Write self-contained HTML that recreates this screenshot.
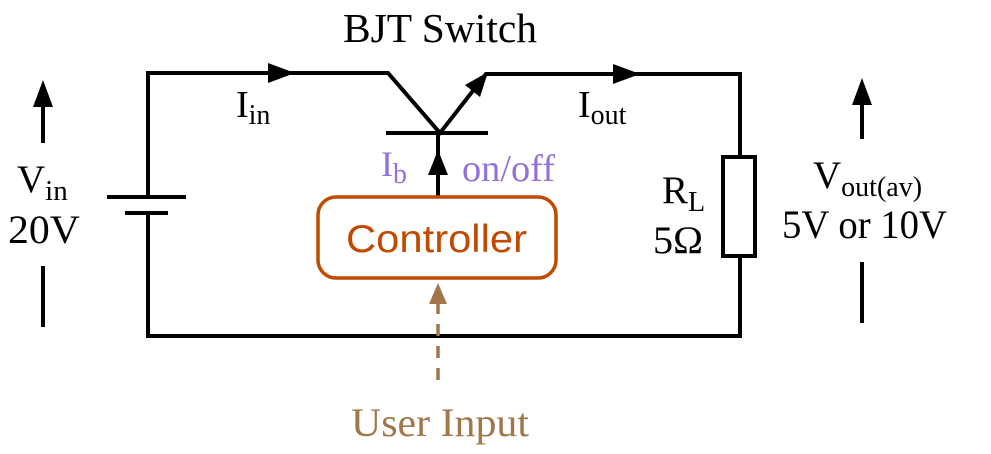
<!DOCTYPE html>
<html><head><meta charset="utf-8"><style>
html,body{margin:0;padding:0;background:#fff;}
svg{display:block;}
.s{font-family:"Liberation Serif",serif;}
</style></head><body>
<svg width="991" height="454" viewBox="0 0 991 454" xmlns="http://www.w3.org/2000/svg">
<g stroke="#000" stroke-width="4" fill="none" stroke-linecap="square">
<polyline points="148,197 148,73 388,73 440,133"/>
<polyline points="440,133 486,74 740,74 740,157"/>
<polyline points="148,213 148,336 740,336 740,256"/>
<line x1="109" y1="197" x2="184" y2="197"/>
<line x1="127" y1="213" x2="166" y2="213"/>
<line x1="388" y1="133" x2="486" y2="133"/>
<line x1="438" y1="133" x2="438" y2="196"/>
<rect x="723" y="157" width="32" height="99"/>
<line x1="43" y1="105" x2="43" y2="141"/>
<line x1="43" y1="268" x2="43" y2="325"/>
<line x1="862" y1="105" x2="862" y2="137"/>
<line x1="862" y1="264" x2="862" y2="321"/>
</g>
<g fill="#000">
<polygon points="268,63 268,83 295,73"/>
<polygon points="613,64 613,84 640,74"/>
<polygon points="488,72 465,85 480,97"/>
<polygon points="438,150 428,175 448,175"/>
<polygon points="43,80 33,107 53,107"/>
<polygon points="862,78 852,105 872,105"/>
</g>
<rect x="318" y="197" width="238" height="81" rx="18" ry="18" fill="none" stroke="#c04a00" stroke-width="3.5"/>
<text x="346" y="252" textLength="181" lengthAdjust="spacingAndGlyphs" font-family="Liberation Sans,sans-serif" font-size="39" fill="#c04a00">Controller</text>
<line x1="438" y1="302" x2="438" y2="390" stroke="#a0764a" stroke-width="3.5" stroke-dasharray="12,10"/>
<polygon points="438,283 429,304 447,304" fill="#a0764a"/>
<text x="351" y="436" textLength="178" lengthAdjust="spacingAndGlyphs" class="s" font-size="40" fill="#a0764a">User Input</text>
<text x="343" y="42" textLength="194" lengthAdjust="spacingAndGlyphs" class="s" font-size="41">BJT Switch</text>
<text x="236" y="117" class="s" font-size="38">I<tspan font-size="28" dy="7">in</tspan></text>
<text x="578" y="117" class="s" font-size="38">I<tspan font-size="28" dy="7">out</tspan></text>
<text x="381" y="176" class="s" font-size="36" fill="#9370db">I<tspan font-size="28" dy="7">b</tspan></text>
<text x="462" y="181" textLength="93" lengthAdjust="spacingAndGlyphs" class="s" font-size="38" fill="#9370db">on/off</text>
<text x="17" y="192" class="s" font-size="39">V<tspan font-size="29" dy="8">in</tspan></text>
<text x="8" y="243" textLength="72" lengthAdjust="spacingAndGlyphs" class="s" font-size="40">20V</text>
<text x="662" y="203" class="s" font-size="39">R<tspan font-size="28" dy="8">L</tspan></text>
<text x="653" y="253" textLength="50" lengthAdjust="spacingAndGlyphs" class="s" font-size="39">5Ω</text>
<text x="813" y="188" class="s" font-size="39">V<tspan font-size="28" dy="8">out(av)</tspan></text>
<text x="782" y="238" textLength="165" lengthAdjust="spacingAndGlyphs" class="s" font-size="40">5V or 10V</text>
</svg>
</body></html>
